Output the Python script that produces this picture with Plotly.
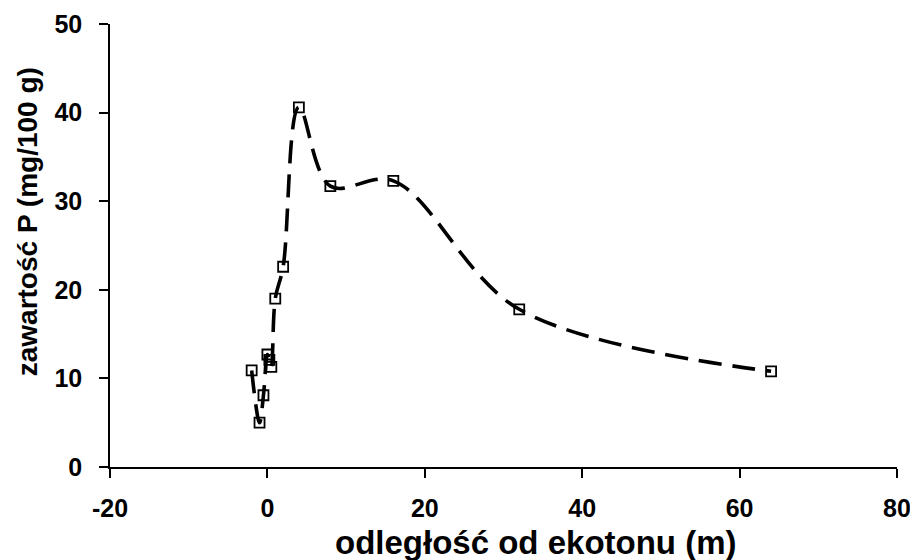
import plotly.graph_objects as go

# distance from ecotone (m) and P content (mg/100 g)
distance = [-2, -1, -0.5, 0, 0.25, 0.5, 1, 2, 4, 8, 16, 32, 64]
p_content = [10.9, 5.0, 8.1, 12.7, 12.1, 11.3, 19.0, 22.6, 40.6, 31.7, 32.3, 17.8, 10.8]

x_ticks = [-20, 0, 20, 40, 60, 80]
y_ticks = [0, 10, 20, 30, 40, 50]

x_title = "odległość od ekotonu (m)"
y_title = "zawartość P (mg/100 g)"

FONT = "Liberation Sans, Arial, sans-serif"

# the page body adds an 8px offset; figure is sized so the plot area lands where the reference has it
OFF = 8
W, H = 910, 552
PLOT_L, PLOT_T, PLOT_R, PLOT_B = 110, 24, 897, 467.5   # page pixels
L, T = PLOT_L - OFF, PLOT_T - OFF
R, B = W + OFF - PLOT_R, H + OFF - PLOT_B
PW, PH = PLOT_R - PLOT_L, PLOT_B - PLOT_T


def px(x):
    return (x - PLOT_L) / PW


def py(y):
    return (PLOT_B - y) / PH


fig = go.Figure()
fig.add_trace(go.Scatter(
    x=distance, y=p_content,
    mode="lines",
    line=dict(color="black", width=3.6, dash="23px,11px", shape="spline", smoothing=1.0),
    hoverinfo="skip", showlegend=False,
))
fig.add_trace(go.Scatter(
    x=distance, y=p_content,
    mode="markers",
    marker=dict(symbol="square-open", size=10, color="black", line=dict(width=1.8, color="black")),
    showlegend=False,
))

axis_common = dict(
    showgrid=False, zeroline=False, showline=True, linecolor="black", linewidth=1.6,
    ticks="outside", ticklen=9, tickwidth=1.6, tickcolor="black",
    tickfont=dict(family=FONT, size=25, color="black", weight="bold"),
    automargin=False,
)

fig.update_layout(
    width=W, height=H,
    margin=dict(l=L, r=R, t=T, b=B),
    paper_bgcolor="white", plot_bgcolor="white",
    font=dict(family=FONT, size=25, color="black"),
    xaxis=dict(range=[-20, 80], tickvals=x_ticks, ticktext=[str(v) for v in x_ticks],
               ticklabelstandoff=9, **axis_common),
    yaxis=dict(range=[0, 50], tickvals=y_ticks, ticktext=[str(v) for v in y_ticks],
               ticklabelstandoff=12, **axis_common),
    annotations=[
        dict(text="<b>" + x_title + "</b>", xref="paper", yref="paper",
             x=px(536), y=py(543), xanchor="center", yanchor="middle",
             showarrow=False, font=dict(family=FONT, size=33, color="black")),
        dict(text="<b>" + y_title + "</b>", xref="paper", yref="paper",
             x=px(27), y=py(222.5), xanchor="center", yanchor="middle",
             textangle=-90, showarrow=False, font=dict(family=FONT, size=28, color="black")),
    ],
)

fig.write_html("out.html")
